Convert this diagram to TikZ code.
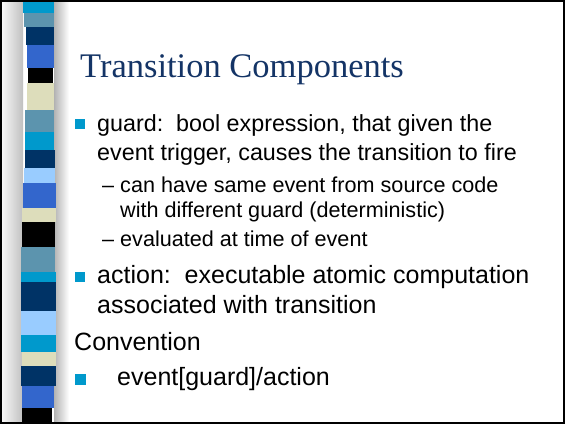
\documentclass[tikz,border=0pt]{standalone}
\usepackage{fontspec}
\setmainfont{Liberation Sans}
\newfontfamily\titlefont{Liberation Serif}

\definecolor{blkcyan}{RGB}{0,153,204}
\definecolor{blksteel}{RGB}{92,148,174}
\definecolor{blknavy}{RGB}{0,51,102}
\definecolor{blkroyal}{RGB}{51,102,204}
\definecolor{blkkhaki}{RGB}{221,221,187}
\definecolor{blklight}{RGB}{153,204,255}
\definecolor{titleblue}{RGB}{20,52,102}

\tikzset{
  bodytext/.style={anchor=base west, inner sep=0pt, font=\fontsize{25}{30}\selectfont},
  guardtext/.style={anchor=base west, inner sep=0pt, font=\fontsize{23.3}{28}\selectfont},
  subtext/.style={anchor=base west, inner sep=0pt, font=\fontsize{21.6}{26}\selectfont},
  titletext/.style={anchor=base west, inner sep=0pt, text=titleblue, font=\titlefont\fontsize{34.5}{40}\selectfont},
  bulletsq/.style={fill=blkcyan, inner sep=0pt, minimum size=10pt, draw=none},
}

\begin{document}
\begin{tikzpicture}[x=1pt,y=-1pt]
  \useasboundingbox (0,0) rectangle (565,424);
  \fill[white] (0,0) rectangle (565,424);

  % grey bevels either side of the colour strip
  \shade[left color=gray!6, right color=gray!50] (2,2) rectangle (23,422);
  \shade[left color=gray!60, right color=white] (54,2) rectangle (69,422);

  % colour blocks of the strip
  \foreach \ya/\yb/\c/\xa/\xb in {
      2/13/blkcyan/23/54,
      13/27/blksteel/24/54,
      27/45/blknavy/26/54,
      45/68/blkroyal/27/54,
      68/83/black/28/53,
      83/110/blkkhaki/27/54,
      110/132/blksteel/25/54,
      132/150/blkcyan/25/54,
      150/168/blknavy/25/55,
      168/183/blklight/24/55,
      183/208/blkroyal/23/56,
      208/222/blkkhaki/22/56,
      222/247/black/22/55,
      247/272/blksteel/21/55,
      272/282/blkcyan/21/56,
      282/311/blknavy/21/56,
      311/335/blklight/21/56,
      335/352/blkcyan/21/56,
      352/366/blkkhaki/22/56,
      366/386/blknavy/21/56,
      386/408/blkroyal/22/54,
      408/422/black/22/52}
    \fill[\c] (\xa,\ya) rectangle (\xb,\yb);

  % outer frame
  \draw[black, line width=2pt] (1,1) rectangle (564,423);

  % title
  \node[titletext] (title) at (80,77) {Transition Components};

  % first bullet: guard
  \node[bulletsq] (b1) at (80,124) {};
  \node[guardtext] (l1a) at (97,131) {guard:\ \ bool expression, that given the};
  \node[guardtext] (l1b) at (97,160.5) {event trigger, causes the transition to fire};

  \node[subtext] (d1) at (102,192) {--};
  \node[subtext] (s1a) at (120,192) {can have same event from source code};
  \node[subtext] (s1b) at (120,217.5) {with different guard (deterministic)};
  \node[subtext] (d2) at (102,246) {--};
  \node[subtext] (s2) at (120,246) {evaluated at time of event};

  % second bullet: action
  \node[bulletsq] (b2) at (80,277) {};
  \node[bodytext] (l2a) at (97,283.5) {action:\ \ executable atomic computation};
  \node[bodytext] (l2b) at (97,313.5) {associated with transition};

  % convention
  \node[bodytext] (conv) at (74,350) {Convention};
  \node[bulletsq, minimum size=11pt] (b3) at (80.5,379) {};
  \node[bodytext] (l3) at (117,385) {event[guard]/action};
\end{tikzpicture}
\end{document}
